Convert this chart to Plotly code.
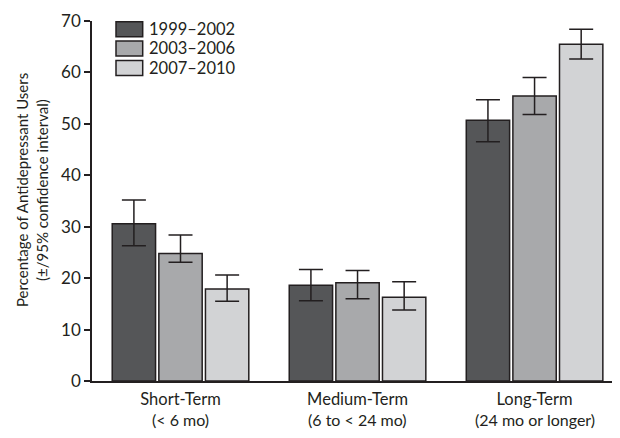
import plotly.graph_objects as go

cat_line1 = ["Short-Term", "Medium-Term", "Long-Term"]
cat_line2 = ["(&lt; 6 mo)", "(6 to &lt; 24 mo)", "(24 mo or longer)"]
series_names = ["1999–2002", "2003–2006", "2007–2010"]
values = {
    "1999–2002": [30.6, 18.6, 50.7],
    "2003–2006": [24.8, 19.1, 55.4],
    "2007–2010": [17.9, 16.3, 65.5],
}
upper = {
    "1999–2002": [35.2, 21.7, 54.7],
    "2003–2006": [28.4, 21.5, 59.0],
    "2007–2010": [20.6, 19.3, 68.4],
}
lower = {
    "1999–2002": [26.3, 15.6, 46.5],
    "2003–2006": [23.1, 16.0, 51.8],
    "2007–2010": [15.5, 13.8, 62.6],
}
colors = {"1999–2002": "#555658", "2003–2006": "#a8a9ab", "2007–2010": "#d2d3d5"}
y_ticks = [0, 10, 20, 30, 40, 50, 60, 70]
y_title = ["Percentage of Antidepressant Users", "(±/95% confidence interval)"]

INK = "#231f20"
FONT = "Lato"

fig = go.Figure()
xs = list(range(len(cat_line1)))
for name in series_names:
    v = values[name]
    fig.add_trace(go.Bar(
        x=xs, y=v, name=name,
        marker=dict(color=colors[name], line=dict(color=INK, width=1.5)),
        error_y=dict(type="data", symmetric=False,
                     array=[u - a for u, a in zip(upper[name], v)],
                     arrayminus=[a - l for a, l in zip(v, lower[name])],
                     color=INK, thickness=1.5, width=12),
        showlegend=False,
    ))

# page body has an 8px margin: figure sits at (8, 8) in the window
OFF = 8
W, H = 620 - OFF, 438 - OFF
L, R, T, B = 92 - OFF, 1, 21 - OFF, 438 - 381
pw, ph = W - L - R, H - T - B

# helpers take window (screen) pixel coordinates
def px(x):
    return (x - 92) / pw

def py(y):
    return (381 - y) / ph

shapes = []
annotations = []
box_tops = [21.7, 41.0, 60.5]
for name, top in zip(series_names, box_tops):
    shapes.append(dict(type="rect", xref="paper", yref="paper",
                       x0=px(116), x1=px(142.7), y0=py(top + 15), y1=py(top),
                       fillcolor=colors[name], line=dict(color=INK, width=1.5)))
    annotations.append(dict(xref="paper", yref="paper", x=px(147), y=py(top + 7.5),
                            xanchor="left", yanchor="middle", showarrow=False,
                            text=name, font=dict(family=FONT, size=16.5, color=INK)))

for xpos, line in zip([22, 42], y_title):
    annotations.append(dict(xref="paper", yref="paper", x=px(xpos), y=py(190),
                            xanchor="center", yanchor="middle", showarrow=False, textangle=-90,
                            text=line, font=dict(family=FONT, size=15, color=INK)))

for xi, line in zip(xs, cat_line2):
    annotations.append(dict(xref="x", yref="paper", x=xi, y=py(419.5),
                            xanchor="center", yanchor="middle", showarrow=False,
                            text=line, font=dict(family=FONT, size=16, color=INK)))

fig.update_layout(
    width=W, height=H,
    margin=dict(l=L, r=R, t=T, b=B),
    paper_bgcolor="white", plot_bgcolor="white",
    barmode="group", bargap=0.21, bargroupgap=0.07,
    font=dict(family=FONT, size=17, color=INK),
    shapes=shapes, annotations=annotations,
    xaxis=dict(range=[-0.5, 2.477], tickvals=xs, ticktext=cat_line1,
               showline=True, linecolor=INK, linewidth=1.5, ticks="", ticklabelstandoff=2,
               showgrid=False, zeroline=False, tickfont=dict(family=FONT, size=16.5, color=INK)),
    yaxis=dict(range=[0, 70], tickvals=y_ticks, showline=True, linecolor=INK, linewidth=1.5,
               ticks="outside", ticklen=6, tickwidth=1.5, tickcolor=INK,
               showgrid=False, zeroline=False, tickfont=dict(family=FONT, size=17, color=INK)),
)

fig.write_html("out.html")
